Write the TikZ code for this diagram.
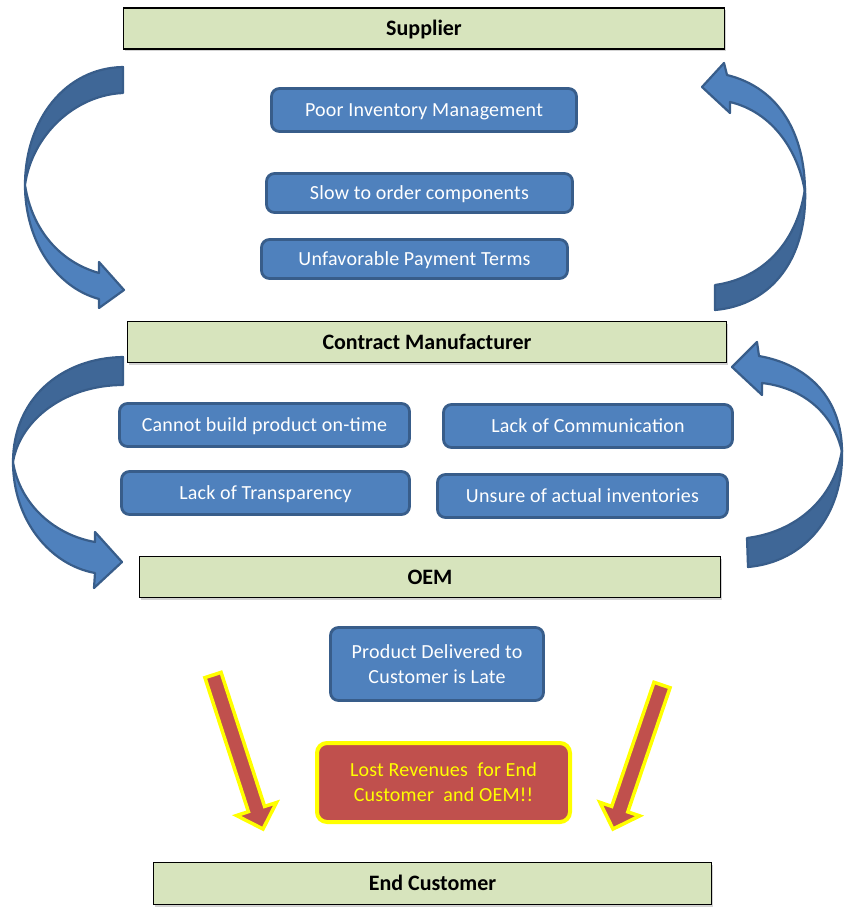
\documentclass[tikz,border=0pt]{standalone}
\usepackage{fontspec}
\setmainfont{Carlito}
\usetikzlibrary{calc,shadows}
\definecolor{greenfill}{HTML}{D7E4BD}
\definecolor{bluefill}{HTML}{4F81BD}
\definecolor{blueline}{HTML}{385D8A}
\definecolor{blueback}{HTML}{3F6797}
\definecolor{redfill}{HTML}{C0504D}
\definecolor{yel}{HTML}{FFFF00}
\tikzset{
  greenbox/.style={rectangle, draw=black, line width=1.1pt, fill=greenfill,
    drop shadow={shadow xshift=1.5pt, shadow yshift=-2pt, opacity=0.35},
    font=\fontsize{22}{26}\selectfont\bfseries, text=black, inner sep=0pt,
    text height=14.2pt, text depth=0pt},
  bluebox/.style={rectangle, rounded corners=8pt, draw=blueline, line width=2.8pt, fill=bluefill,
    font=\fontsize{20}{25}\selectfont\addfontfeatures{LetterSpace=1}, text=white, inner sep=0pt, align=center},
  oneline/.style={text height=12.9pt, text depth=0pt},
  redbox/.style={rectangle, rounded corners=10pt, draw=yel, line width=4pt, fill=redfill,
    font=\fontsize{20}{25}\selectfont\addfontfeatures{LetterSpace=1}, text=yel, inner sep=0pt, align=center},
  curvefront/.style={fill=bluefill, draw=blueline, line width=2.2pt, line join=round},
  curveback/.style={fill=blueback, draw=blueline, line width=2.2pt, line join=round},
  redarrow/.style={fill=redfill, draw=yel, line width=3.5pt, line join=miter},
}
\begin{document}
\begin{tikzpicture}[x=1pt,y=-1pt]
\useasboundingbox (0,0) rectangle (844,907);

% green stage boxes
\node[greenbox, minimum width=601pt, minimum height=41pt] (sup) at (424,28.5) {Supplier};
\node[greenbox, minimum width=599pt, minimum height=41pt] (cm) at (427,342) {Contract Manufacturer};
\node[greenbox, minimum width=581pt, minimum height=41pt] (oem) at (430,577) {OEM};
\node[greenbox, minimum width=558pt, minimum height=42pt] (ec) at (432.5,883.5) {End Customer};

% blue issue boxes
\node[bluebox, oneline, minimum width=305pt, minimum height=43pt] (b1) at (424,110) {Poor Inventory Management};
\node[bluebox, oneline, minimum width=306pt, minimum height=39pt] (b2) at (419.5,193) {Slow to order components};
\node[bluebox, oneline, minimum width=306pt, minimum height=39pt] (b3) at (414.5,259) {Unfavorable Payment Terms};
\node[bluebox, oneline, minimum width=290pt, minimum height=43pt] (b4) at (264.5,425) {Cannot build product on-time};
\node[bluebox, oneline, minimum width=289pt, minimum height=43pt] (b5) at (588,426) {Lack of Communication};
\node[bluebox, oneline, minimum width=288pt, minimum height=43pt] (b6) at (265.5,493) {Lack of Transparency};
\node[bluebox, oneline, minimum width=290pt, minimum height=43pt] (b7) at (582.5,496) {Unsure of actual inventories};
\node[bluebox, minimum width=213pt, minimum height=73pt] (b8) at (437,664) {Product Delivered to\\Customer is Late};
\node[redbox, minimum width=253pt, minimum height=79pt] (lost) at (443.5,782.5) {Lost Revenues\ \ for End\\Customer\ \ and OEM!!};

% curved arrow: Supplier -> Contract Manufacturer (left)
\draw[curveback] (123,67) .. controls (65,68) and (25,120) .. (25,185)
  .. controls (32,135) and (75,95) .. (123,93) -- cycle;
\draw[curvefront] (25,185) .. controls (25,240) and (55,287) .. (99,299)
  -- (99,308) -- (124,290) -- (99,262) -- (99,273)
  .. controls (60,262) and (32,230) .. (25,185) -- cycle;

% curved arrow: Contract Manufacturer -> Supplier (right)
\draw[curveback] (805,188) .. controls (808,258) and (772,305) .. (715,310)
  -- (715,285) .. controls (765,278) and (798,240) .. (805,188) -- cycle;
\draw[curvefront] (727,75) .. controls (780,88) and (805,135) .. (805,192)
  .. controls (798,150) and (772,112) .. (730,102)
  -- (730,113) -- (702,87) -- (724,63) -- cycle;

% curved arrow: Contract Manufacturer -> OEM (left)
\draw[curveback] (123,357) .. controls (60,358) and (13,400) .. (13,462)
  .. controls (20,420) and (65,385) .. (123,385) -- cycle;
\draw[curvefront] (13,462) .. controls (13,520) and (50,565) .. (95,573)
  -- (94,588) -- (122,562) -- (95,532) -- (95,542)
  .. controls (55,535) and (20,505) .. (13,462) -- cycle;

% curved arrow: OEM -> Contract Manufacturer (right)
\draw[curveback] (842,450) .. controls (844,515) and (805,562) .. (748,567)
  -- (747,538) .. controls (795,532) and (834,500) .. (842,450) -- cycle;
\draw[curvefront] (759,356) .. controls (810,365) and (842,400) .. (842,452)
  .. controls (834,415) and (805,388) .. (762,383)
  -- (762,395) -- (732,367) -- (757,342) -- cycle;

% red straight arrows towards End Customer
\coordinate (ls) at (213,675);
\coordinate (lt) at (263,829);
\coordinate (lh) at ($(lt)!21pt!(ls)$);
\draw[redarrow] ($(ls)!8.5pt!90:(lt)$) -- ($(lh)!8.5pt!90:(lt)$) -- ($(lh)!21pt!90:(lt)$)
  -- (lt) -- ($(lh)!21pt!-90:(lt)$) -- ($(lh)!8.5pt!-90:(lt)$) -- ($(ls)!8.5pt!-90:(lt)$) -- cycle;

\coordinate (rs) at (662,685);
\coordinate (rt) at (613,829);
\coordinate (rh) at ($(rt)!21pt!(rs)$);
\draw[redarrow] ($(rs)!8.5pt!90:(rt)$) -- ($(rh)!8.5pt!90:(rt)$) -- ($(rh)!21pt!90:(rt)$)
  -- (rt) -- ($(rh)!21pt!-90:(rt)$) -- ($(rh)!8.5pt!-90:(rt)$) -- ($(rs)!8.5pt!-90:(rt)$) -- cycle;
\end{tikzpicture}
\end{document}
